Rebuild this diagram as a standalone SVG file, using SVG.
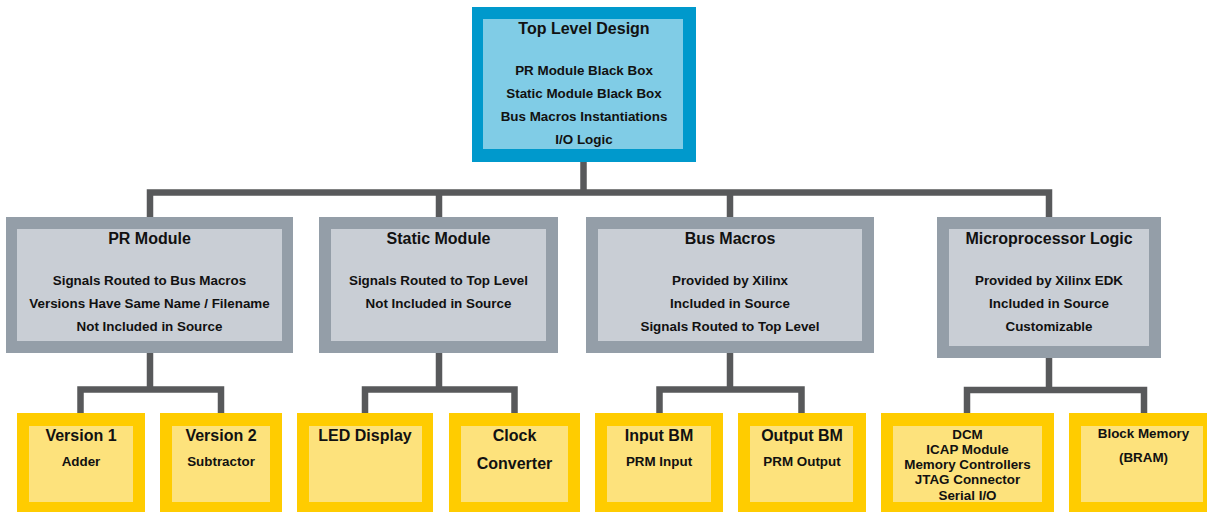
<svg xmlns="http://www.w3.org/2000/svg" width="1207" height="512" viewBox="0 0 1207 512">
  <style>
    .wire { fill: none; stroke: #58595b; stroke-width: 6.5; stroke-linejoin: miter; stroke-linecap: butt; }
    .top-o { fill: #0099cc; }
    .top-i { fill: #80cce6; }
    .mod-o { fill: #949ea8; }
    .mod-i { fill: #c9ced5; }
    .leaf-o { fill: #ffcc00; }
    .leaf-i { fill: #fde27c; }
    text { font-family: "Liberation Sans", Arial, sans-serif; font-weight: bold; fill: #111; text-anchor: middle; }
    .t { font-size: 16px; }
    .b { font-size: 13.4px; }
  </style>

  <!-- connectors -->
  <g id="connectors">
    <path class="wire" d="M583.5 162 V192.5 M150 217 V192.5 H1049 V217 M439 192.5 V217 M730 192.5 V217"/>
    <path class="wire" d="M150 353 V389.5 M80.5 413 V389.5 H221 V413"/>
    <path class="wire" d="M439 353 V389.5 M365 413 V389.5 H514.5 V413"/>
    <path class="wire" d="M730 353 V389.5 M659.5 413 V389.5 H801.5 V413"/>
    <path class="wire" d="M1049 358 V390 M967 413 V390 H1144 V413"/>
  </g>

  <!-- top level -->
  <g id="top-level-design">
    <rect class="top-o" x="472" y="7" width="224" height="155"/>
    <rect class="top-i" x="483" y="19" width="200" height="130"/>
    <text class="t" x="584" y="34">Top Level Design</text>
    <text class="b" x="584" y="74.5">PR Module Black Box</text>
    <text class="b" x="584" y="97.5">Static Module Black Box</text>
    <text class="b" x="584" y="120.5">Bus Macros Instantiations</text>
    <text class="b" x="584" y="143.5">I/O Logic</text>
  </g>

  <!-- second level modules -->
  <g id="pr-module">
    <rect class="mod-o" x="6" y="217" width="287" height="136"/>
    <rect class="mod-i" x="17" y="229" width="265" height="112"/>
    <text class="t" x="149.5" y="244">PR Module</text>
    <text class="b" x="149.5" y="285">Signals Routed to Bus Macros</text>
    <text class="b" x="149.5" y="308">Versions Have Same Name / Filename</text>
    <text class="b" x="149.5" y="331">Not Included in Source</text>
  </g>

  <g id="static-module">
    <rect class="mod-o" x="319" y="217" width="239" height="136"/>
    <rect class="mod-i" x="331" y="229" width="215" height="112"/>
    <text class="t" x="438.5" y="244">Static Module</text>
    <text class="b" x="438.5" y="285">Signals Routed to Top Level</text>
    <text class="b" x="438.5" y="308">Not Included in Source</text>
  </g>

  <g id="bus-macros">
    <rect class="mod-o" x="586" y="217" width="288" height="136"/>
    <rect class="mod-i" x="598" y="229" width="264" height="112"/>
    <text class="t" x="730" y="244">Bus Macros</text>
    <text class="b" x="730" y="285">Provided by Xilinx</text>
    <text class="b" x="730" y="308">Included in Source</text>
    <text class="b" x="730" y="331">Signals Routed to Top Level</text>
  </g>

  <g id="microprocessor-logic">
    <rect class="mod-o" x="937" y="217" width="224" height="141"/>
    <rect class="mod-i" x="949" y="229" width="200" height="117"/>
    <text class="t" x="1049" y="244">Microprocessor Logic</text>
    <text class="b" x="1049" y="285">Provided by Xilinx EDK</text>
    <text class="b" x="1049" y="308">Included in Source</text>
    <text class="b" x="1049" y="331">Customizable</text>
  </g>

  <!-- leaf blocks -->
  <g id="version-1">
    <rect class="leaf-o" x="17" y="413" width="128" height="101"/>
    <rect class="leaf-i" x="29" y="426" width="104" height="76"/>
    <text class="t" x="81" y="441">Version 1</text>
    <text class="b" x="81" y="466">Adder</text>
  </g>

  <g id="version-2">
    <rect class="leaf-o" x="160" y="413" width="122" height="101"/>
    <rect class="leaf-i" x="172" y="426" width="98" height="76"/>
    <text class="t" x="221" y="441">Version 2</text>
    <text class="b" x="221" y="466">Subtractor</text>
  </g>

  <g id="led-display">
    <rect class="leaf-o" x="297" y="413" width="136" height="101"/>
    <rect class="leaf-i" x="309" y="426" width="113" height="76"/>
    <text class="t" x="365" y="441">LED Display</text>
  </g>

  <g id="clock-converter">
    <rect class="leaf-o" x="449" y="413" width="131" height="101"/>
    <rect class="leaf-i" x="461" y="426" width="107" height="76"/>
    <text class="t" x="514.5" y="441">Clock</text>
    <text class="t" x="514.5" y="469">Converter</text>
  </g>

  <g id="input-bm">
    <rect class="leaf-o" x="595" y="413" width="128" height="101"/>
    <rect class="leaf-i" x="607" y="426" width="104" height="76"/>
    <text class="t" x="659" y="441">Input BM</text>
    <text class="b" x="659" y="466">PRM Input</text>
  </g>

  <g id="output-bm">
    <rect class="leaf-o" x="738" y="413" width="128" height="101"/>
    <rect class="leaf-i" x="750" y="426" width="103" height="76"/>
    <text class="t" x="802" y="441">Output BM</text>
    <text class="b" x="802" y="466">PRM Output</text>
  </g>

  <g id="mpu-peripherals">
    <rect class="leaf-o" x="881" y="413" width="173" height="101"/>
    <rect class="leaf-i" x="893" y="426" width="149" height="76"/>
    <text class="b" x="967.5" y="438.5">DCM</text>
    <text class="b" x="967.5" y="453.5">ICAP Module</text>
    <text class="b" x="967.5" y="469">Memory Controllers</text>
    <text class="b" x="967.5" y="484">JTAG Connector</text>
    <text class="b" x="967.5" y="499.5">Serial I/O</text>
  </g>

  <g id="block-memory">
    <rect class="leaf-o" x="1069" y="413" width="146" height="101"/>
    <rect class="leaf-i" x="1081" y="426" width="122" height="76"/>
    <text class="b" x="1143.5" y="438">Block Memory</text>
    <text class="b" x="1143.5" y="462">(BRAM)</text>
  </g>
</svg>
